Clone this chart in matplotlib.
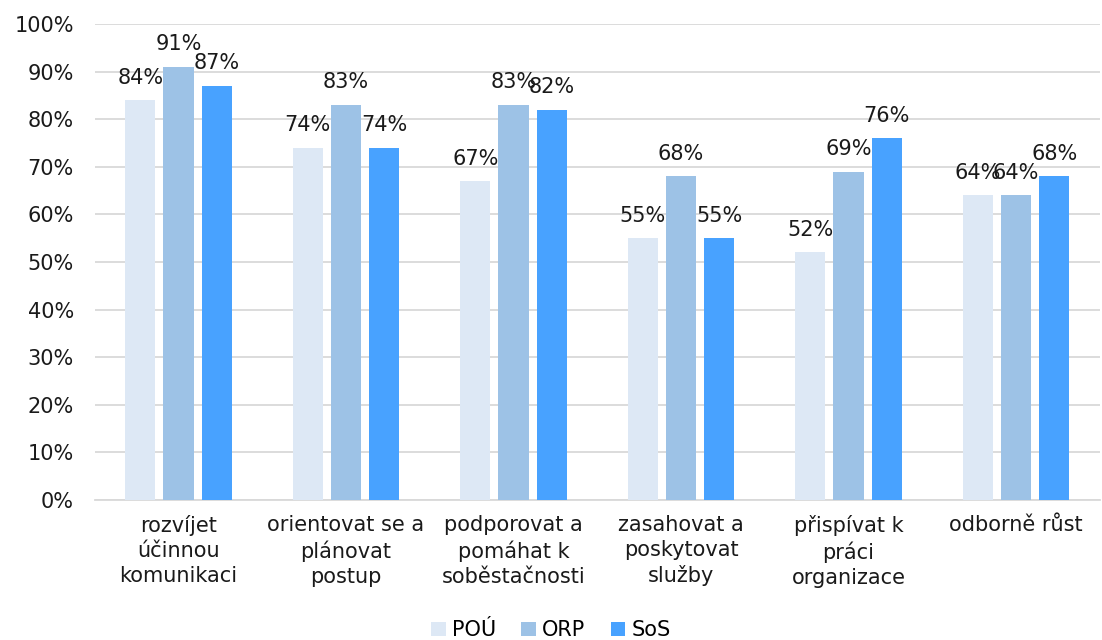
import matplotlib.pyplot as plt
import numpy as np

categories = ["rozvíjet\núčinnou\nkomunikaci", "orientovat se a\nplánovat\npostup",
              "podporovat a\npomáhat k\nsoběstačnosti", "zasahovat a\nposkytovat\nslužby",
              "přispívat k\npráci\norganizace", "odborně růst"]
series = ["POÚ", "ORP", "SoS"]
pou = [84, 74, 67, 55, 52, 64]
orp = [91, 83, 83, 68, 69, 64]
sos = [87, 74, 82, 55, 76, 68]
colors = ["#DDE8F5", "#9DC2E6", "#48A2FF"]

plt.rcParams['font.family'] = ['DejaVu Sans']
fs = 15

fig = plt.figure(figsize=(11.02, 6.4), dpi=100)
ax = fig.add_axes([0.086, 0.219, 0.912, 0.7435])

x = np.arange(len(categories))
width = 0.18
offset = 0.228
for i, (name, vals) in enumerate(zip(series, [pou, orp, sos])):
    pos = x + (i - 1) * offset
    ax.bar(pos, vals, width, color=colors[i], label=name, zorder=3)
    for p, v in zip(pos, vals):
        ax.annotate(f"{v}%", (p, v), xytext=(0, 9), textcoords="offset points",
                    ha="center", va="bottom", fontsize=fs, color="#1a1a1a", zorder=4)

ax.set_ylim(0, 100)
ax.set_xlim(-0.5, len(categories) - 0.5)
ax.set_yticks(range(0, 101, 10))
ax.set_yticklabels([f"{t}%" for t in range(0, 101, 10)], fontsize=fs, color="#1a1a1a")
ax.set_xticks(x)
ax.set_xticklabels(categories, fontsize=fs, color="#1a1a1a", linespacing=1.3)
ax.tick_params(axis='y', length=0, pad=15)
ax.tick_params(axis='x', length=0, pad=11)
ax.grid(axis='y', color="#D9D9D9", linewidth=1.3, zorder=0)
for s in ["top", "right", "left"]:
    ax.spines[s].set_visible(False)
ax.spines["bottom"].set_color("#D9D9D9")
ax.spines["bottom"].set_linewidth(1.3)

fig.legend(loc="lower center", bbox_to_anchor=(0.5, -0.03), ncol=3, frameon=False,
           fontsize=fs, handlelength=0.7, handleheight=0.7, handletextpad=0.3,
           columnspacing=1.2)

fig.savefig("out.png", dpi=100)
